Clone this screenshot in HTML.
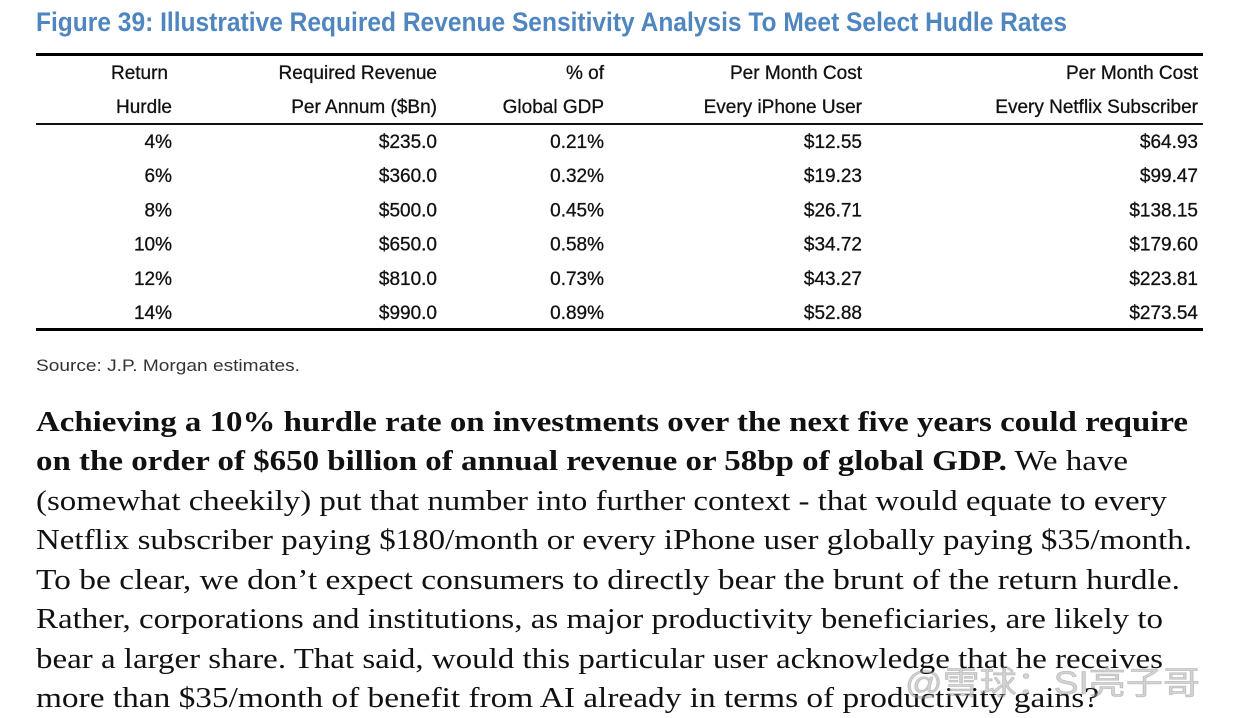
<!DOCTYPE html>
<html><head><meta charset="utf-8"><style>
html,body{margin:0;padding:0;background:#fff;}
svg{display:block}
.hd{font-family:"Liberation Sans Narrow","Liberation Sans",sans-serif;font-size:19px;fill:#111;stroke:#111;stroke-width:0.3;}
.p{font-family:"Liberation Serif",serif;font-size:28px;fill:#111;}
</style></head><body>
<svg id="page" width="1236" height="718" viewBox="0 0 1236 718" xmlns="http://www.w3.org/2000/svg">
<rect width="1236" height="718" fill="#fff"/>
<text x="36" y="31" textLength="1031" lengthAdjust="spacingAndGlyphs" font-family="Liberation Sans Narrow, Liberation Sans, sans-serif" font-weight="bold" font-size="27" fill="#4f86c0">Figure 39: Illustrative Required Revenue Sensitivity Analysis To Meet Select Hudle Rates</text>
<rect x="36" y="53" width="1167" height="3" fill="#000"/>
<rect x="36" y="123" width="1167" height="2" fill="#111"/>
<rect x="36" y="328" width="1167" height="3" fill="#000"/>
<g id="table"></g>
<text x="36" y="371" font-family="Liberation Sans, sans-serif" font-size="17" fill="#333" textLength="264" lengthAdjust="spacingAndGlyphs">Source: J.P. Morgan estimates.</text>
<g>
<text class="p" x="36" y="431" textLength="1152" lengthAdjust="spacingAndGlyphs" font-weight="bold">Achieving a 10% hurdle rate on investments over the next five years could require</text>
<text class="p" x="36" y="470" textLength="1092" lengthAdjust="spacingAndGlyphs"><tspan font-weight="bold">on the order of $650 billion of annual revenue or 58bp of global GDP.</tspan> We have</text>
<text class="p" x="36" y="510" textLength="1131" lengthAdjust="spacingAndGlyphs">(somewhat cheekily) put that number into further context - that would equate to every</text>
<text class="p" x="36" y="549" textLength="1156" lengthAdjust="spacingAndGlyphs">Netflix subscriber paying $180/month or every iPhone user globally paying $35/month.</text>
<text class="p" x="36" y="589" textLength="1144" lengthAdjust="spacingAndGlyphs">To be clear, we don’t expect consumers to directly bear the brunt of the return hurdle.</text>
<text class="p" x="36" y="628" textLength="1127" lengthAdjust="spacingAndGlyphs">Rather, corporations and institutions, as major productivity beneficiaries, are likely to</text>
<text class="p" x="36" y="668" textLength="1127" lengthAdjust="spacingAndGlyphs">bear a larger share. That said, would this particular user acknowledge that he receives</text>
<text class="p" x="36" y="707" textLength="1063" lengthAdjust="spacingAndGlyphs">more than $35/month of benefit from AI already in terms of productivity gains?</text>
</g>
<text x="905" y="694" textLength="295" lengthAdjust="spacingAndGlyphs" font-family="Liberation Sans, Noto Sans CJK SC, sans-serif" font-size="32" fill="rgba(160,160,160,0.45)" stroke="rgba(120,120,120,0.35)" stroke-width="0.8">@雪球：SI亮子哥</text>
</svg>
<script>
const hurdles=["4%","6%","8%","10%","12%","14%"];
const revenue=["$235.0","$360.0","$500.0","$650.0","$810.0","$990.0"];
const gdpShare=["0.21%","0.32%","0.45%","0.58%","0.73%","0.89%"];
const iphoneCost=["$12.55","$19.23","$26.71","$34.72","$43.27","$52.88"];
const netflixCost=["$64.93","$99.47","$138.15","$179.60","$223.81","$273.54"];
const header1=["Return","Required Revenue","% of","Per Month Cost","Per Month Cost"];
const header2=["Hurdle","Per Annum ($Bn)","Global GDP","Every iPhone User","Every Netflix Subscriber"];
const colRight=[172,437,604,862,1198];
const NS="http://www.w3.org/2000/svg";
const g=document.getElementById('table');
function t(x,y,s){const e=document.createElementNS(NS,'text');e.setAttribute('x',x);e.setAttribute('y',y);e.setAttribute('text-anchor','end');e.setAttribute('class','hd');e.textContent=s;g.appendChild(e);return e;}
header1.forEach((h,i)=>{const e=t(i===0?168:colRight[i],79,h);

});
header2.forEach((h,i)=>{const e=t(colRight[i],113,h);

});
const cols=[hurdles,revenue,gdpShare,iphoneCost,netflixCost];
hurdles.forEach((_,r)=>{const y=148+r*34.2;cols.forEach((c,i)=>{const e=t(colRight[i],y,c[r]);

});});
</script>
</body></html>
